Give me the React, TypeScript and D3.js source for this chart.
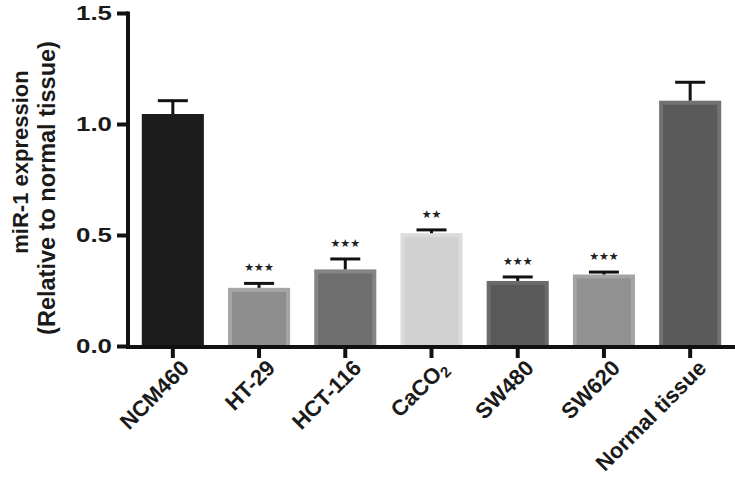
import React, { useEffect, useRef } from 'react';
import * as d3 from 'd3';

// values
const cellLines = ['NCM460', 'HT-29', 'HCT-116', 'CaCO2', 'SW480', 'SW620', 'Normal tissue'];
const expression = [1.045, 0.262, 0.345, 0.508, 0.293, 0.322, 1.105];
const sem = [0.06, 0.02, 0.047, 0.015, 0.018, 0.011, 0.083];
const stars = ['', '***', '***', '**', '***', '***', ''];
const fillInner = ['#1c1c1c', '#8e8e8e', '#6f6f6f', '#d1d1d1', '#595959', '#919191', '#5a5a5a'];
const fillBorder = ['#1c1c1c', '#a6a6a6', '#858585', '#dcdcdc', '#6b6b6b', '#a4a4a4', '#717171'];
const yTicks = [0, 0.5, 1.0, 1.5];

const W = 735;
const H = 495;
const FONT = 'Arial, "Liberation Sans", sans-serif';

export default function App() {
  const ref = useRef<SVGSVGElement>(null);

  useEffect(() => {
    const svg = d3.select(ref.current);
    svg.selectAll('*').remove();

    const x = d3.scaleBand().domain(cellLines).range([128, 735])
      .paddingInner(0.28).paddingOuter(0.16);
    const y = d3.scaleLinear().domain([0, 1.5]).range([346, 13]);
    const bw = x.bandwidth();
    const ink = '#111';

    // bars
    const bars = svg.append('g');
    cellLines.forEach((c, i) => {
      const x0 = x(c)!;
      bars.append('rect')
        .attr('x', x0).attr('y', y(expression[i]))
        .attr('width', bw).attr('height', y(0) - y(expression[i]))
        .attr('fill', fillBorder[i]);
      bars.append('rect')
        .attr('x', x0 + 4).attr('y', y(expression[i]) + 4)
        .attr('width', bw - 8).attr('height', y(0) - y(expression[i]) - 4)
        .attr('fill', fillInner[i]);

      // upper error bar
      const cx = x0 + bw / 2;
      const top = y(expression[i] + sem[i]);
      bars.append('line')
        .attr('x1', cx).attr('x2', cx)
        .attr('y1', y(expression[i])).attr('y2', top)
        .attr('stroke', ink).attr('stroke-width', 3);
      bars.append('line')
        .attr('x1', cx - 15).attr('x2', cx + 15)
        .attr('y1', top).attr('y2', top)
        .attr('stroke', ink).attr('stroke-width', 3);

      if (stars[i]) {
        bars.append('text')
          .attr('x', cx).attr('y', top - 12)
          .attr('text-anchor', 'middle')
          .style('font-family', '"DejaVu Sans", sans-serif')
          .style('font-size', '11px')
          .attr('fill', '#222')
          .text(stars[i].replace(/\*/g, '\u2605'));
      }
    });

    // y axis
    const yAxis = svg.append('g')
      .attr('transform', 'translate(128,0)')
      .call(d3.axisLeft(y).tickValues(yTicks).tickFormat(d3.format('.1f'))
        .tickSize(11).tickPadding(5).tickSizeOuter(0));
    yAxis.select('.domain').attr('stroke', ink).attr('stroke-width', 4)
      .attr('d', `M0,${y(1.5) - 1.5}V${y(0) + 1.5}`);
    yAxis.selectAll('.tick line').attr('stroke', ink).attr('stroke-width', 4);
    yAxis.selectAll('.tick text')
      .style('font-family', FONT).style('font-size', '20px').style('font-weight', 'bold')
      .attr('textLength', 36).attr('lengthAdjust', 'spacingAndGlyphs')
      .attr('fill', '#1a1a1a');

    // x axis
    const xAxis = svg.append('g')
      .attr('transform', `translate(0,${y(0) + 1})`)
      .call(d3.axisBottom(x).tickSize(11).tickSizeOuter(0).tickFormat(() => ''));
    xAxis.select('.domain').attr('stroke', ink).attr('stroke-width', 4)
      .attr('d', `M126,0H${W}`);
    xAxis.selectAll('.tick line').attr('stroke', ink).attr('stroke-width', 4);

    // rotated category labels
    const labels = svg.append('g');
    cellLines.forEach((c) => {
      const cx = x(c)! + bw / 2;
      const t = labels.append('text')
        .attr('transform', `translate(${cx + 12},${y(0) + 18}) rotate(-45)`)
        .attr('text-anchor', 'end')
        .attr('dy', '0.35em')
        .style('font-family', FONT).style('font-size', '22px').style('font-weight', 'bold')
        .attr('fill', '#1a1a1a');
      if (c === 'CaCO2') {
        t.append('tspan').text('CaCO');
        t.append('tspan').attr('dy', '0.3em').style('font-size', '15px').text('2');
      } else {
        t.text(c);
      }
    });

    // y title, two lines
    svg.append('text')
      .attr('transform', 'translate(28,162) rotate(-90)')
      .attr('text-anchor', 'middle')
      .style('font-family', FONT).style('font-size', '22px').style('font-weight', 'bold')
      .attr('fill', '#1a1a1a')
      .text('miR-1 expression');
    svg.append('text')
      .attr('transform', 'translate(55,188) rotate(-90)')
      .attr('text-anchor', 'middle')
      .style('font-family', FONT).style('font-size', '23.5px').style('font-weight', 'bold')
      .attr('fill', '#1a1a1a')
      .text('(Relative to normal tissue)');
  }, []);

  return (
    <div style={{ position: 'absolute', left: 0, top: 0 }}>
      <svg ref={ref} width={W} height={H} style={{ display: 'block', background: '#fff' }} />
    </div>
  );
}
